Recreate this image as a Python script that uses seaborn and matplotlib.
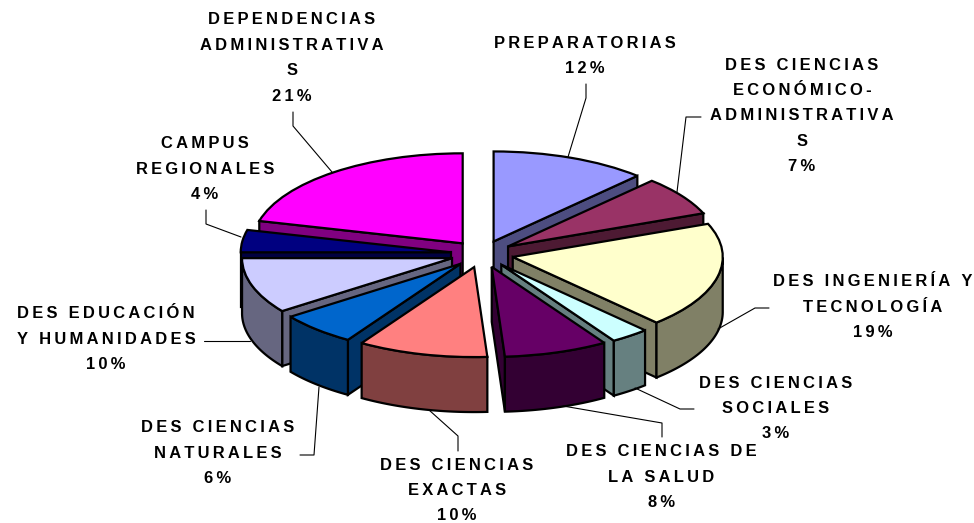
import numpy as np
import matplotlib
matplotlib.use('Agg')
import matplotlib.pyplot as plt
import seaborn as sns

sns.set_theme(style='white')
plt.rcParams['font.family'] = ['Liberation Sans', 'DejaVu Sans']

names = [
    ['PREPARATORIAS'],
    ['DES CIENCIAS', 'ECONÓMICO-', 'ADMINISTRATIVA', 'S'],
    ['DES INGENIERÍA Y', 'TECNOLOGÍA'],
    ['DES CIENCIAS', 'SOCIALES'],
    ['DES CIENCIAS DE', 'LA SALUD'],
    ['DES CIENCIAS', 'EXACTAS'],
    ['DES CIENCIAS', 'NATURALES'],
    ['DES EDUCACIÓN', 'Y HUMANIDADES'],
    ['CAMPUS', 'REGIONALES'],
    ['DEPENDENCIAS', 'ADMINISTRATIVA', 'S'],
]
values = [12, 7, 19, 3, 8, 10, 6, 10, 4, 21]
colors = ['#9999FF', '#993366', '#FFFFCC', '#CCFFFF', '#660066',
          '#FF8080', '#0066CC', '#CCCCFF', '#000080', '#FF00FF']
# label centre (x, y of first line) in image pixels
label_pos = [(585, 43), (802, 65), (873, 282), (776, 383), (661, 452),
             (457, 465), (218, 428), (106, 314), (205, 144), (292, 20)]
# leader lines in image pixels
leaders = [
    [(568, 157), (586, 98), (586, 84)],
    [(677, 192), (686, 117), (701, 117)],
    [(718, 329), (755, 308), (769, 308)],
    [(635, 388), (680, 409), (694, 409)],
    [(563, 406), (662, 423), (662, 437)],
    [(429, 410), (458, 436), (458, 451)],
    [(319, 387), (314, 455), (300, 455)],
    [(250, 341), (204, 341)],
    [(241, 237), (206, 224), (206, 210)],
    [(332, 172), (293, 126), (293, 112)],
]

W, H = 974, 523
cx, cy, rx, ry, depth = 482, 254, 210, 90, 55
line_h = 25.4


def spaced(s):
    # the labels are letter-spaced in the original
    return '\u2009'.join(s)


fig = plt.figure(figsize=(W / 100, H / 100), dpi=100, facecolor='white')
ax = fig.add_axes([0, 0, 1, 1])
wedges, _ = ax.pie(values, explode=[0.15] * len(values), colors=colors, startangle=90,
                   counterclock=False, wedgeprops={'edgecolor': 'black', 'linewidth': 1.6})
ax.set_aspect('auto')
ax.set_xlim(-cx / rx, (W - cx) / rx)
ax.set_ylim(-(H - cy) / ry, cy / ry)
ax.axis('off')


def darker(c):
    return tuple(0.5 * v for v in matplotlib.colors.to_rgb(c))


d = depth / ry
mids = [np.radians((w.theta1 + w.theta2) / 2) for w in wedges]
order = np.argsort([-(w.center[1] + 0.6 * np.sin(m)) for w, m in zip(wedges, mids)])
for z, i in enumerate(order):
    w = wedges[i]
    x0, y0 = w.center
    t = np.radians(np.linspace(w.theta1, w.theta2, 60))
    ex = x0 + np.cos(t)
    ey = y0 + np.sin(t)
    side = darker(colors[i])
    style = dict(facecolor=side, edgecolor='black', linewidth=1.6, zorder=2 * z + 1)
    # only the cut faces turned towards the viewer
    for k, normal in ((0, t[0] - np.pi / 2), (-1, t[-1] + np.pi / 2)):
        if np.sin(normal) < -1e-6:
            ax.fill([x0, ex[k], ex[k], x0], [y0, ey[k], ey[k] - d, y0 - d], **style)
    front = np.sin(t) <= 0
    if front.any():
        ax.fill(np.r_[ex[front], ex[front][::-1]], np.r_[ey[front], ey[front][::-1] - d], **style)
    w.set_zorder(2 * z + 2)

for name, v, (x, y), pts in zip(names, values, label_pos, leaders):
    for j, line in enumerate(name + [f'{v}%']):
        fig.text(x / W, 1 - (y + j * line_h) / H, spaced(line), ha='center', va='center',
                 fontsize=11.85, fontweight='bold', color='black')
    xs, ys = zip(*pts)
    fig.add_artist(plt.Line2D(np.array(xs) / W, 1 - np.array(ys) / H, color='black', lw=0.8))

fig.savefig('out.png', dpi=100)
